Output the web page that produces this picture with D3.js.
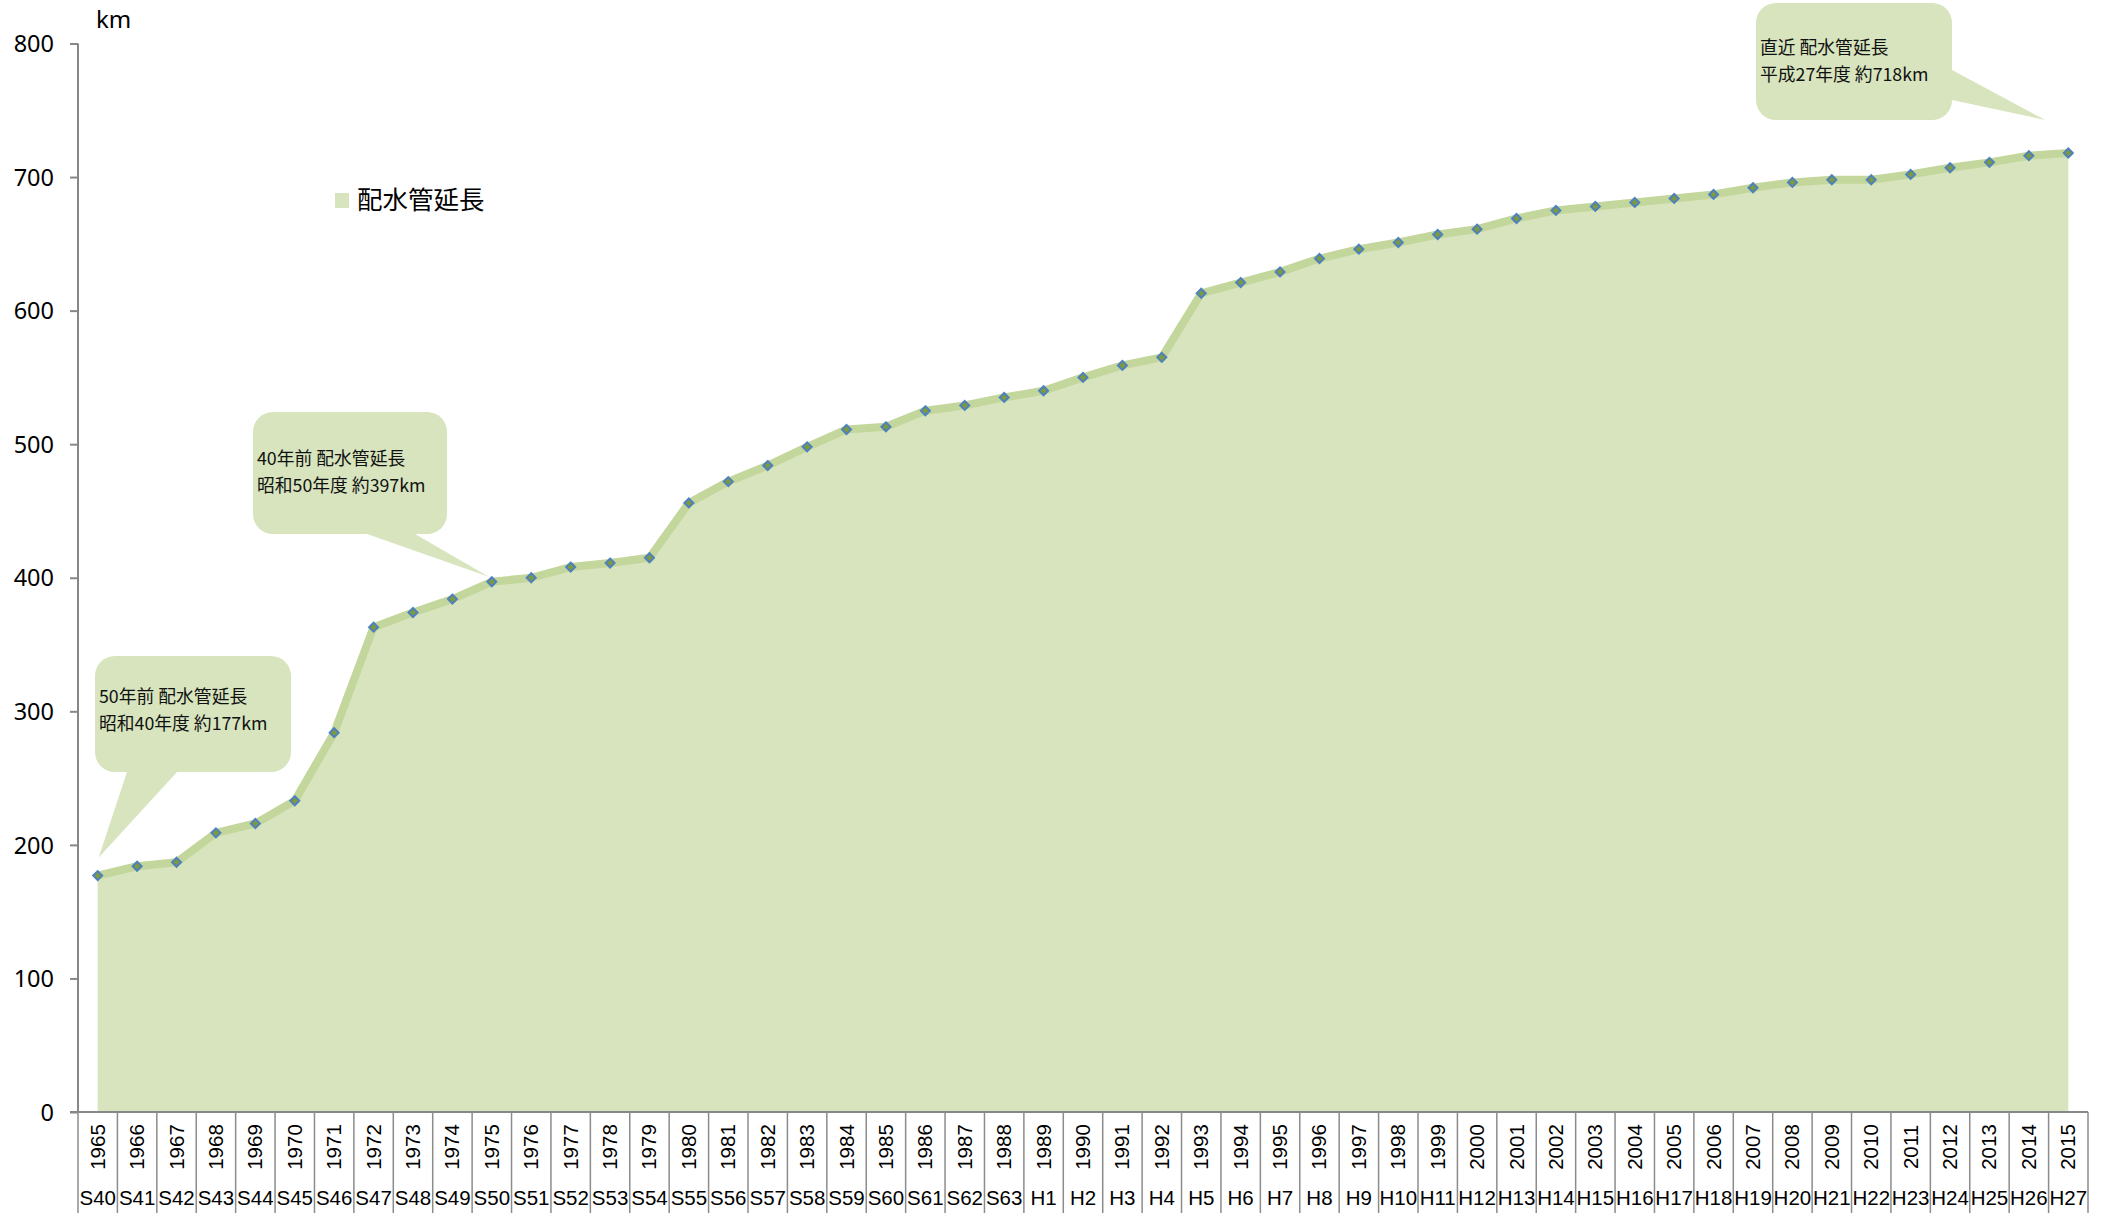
<!DOCTYPE html>
<html>
<head>
<meta charset="utf-8">
<script src="https://cdn.jsdelivr.net/npm/d3@7"></script>
<style>
  html, body { margin: 0; padding: 0; background: #fff; }
  svg { display: block; }
</style>
</head>
<body>
<svg id="chart" width="2104" height="1213"></svg>
<script>
// ---- data ----
const years = ["1965","1966","1967","1968","1969","1970","1971","1972","1973","1974",
  "1975","1976","1977","1978","1979","1980","1981","1982","1983","1984",
  "1985","1986","1987","1988","1989","1990","1991","1992","1993","1994",
  "1995","1996","1997","1998","1999","2000","2001","2002","2003","2004",
  "2005","2006","2007","2008","2009","2010","2011","2012","2013","2014","2015"];
const eras = ["S40","S41","S42","S43","S44","S45","S46","S47","S48","S49",
  "S50","S51","S52","S53","S54","S55","S56","S57","S58","S59",
  "S60","S61","S62","S63","H1","H2","H3","H4","H5","H6",
  "H7","H8","H9","H10","H11","H12","H13","H14","H15","H16",
  "H17","H18","H19","H20","H21","H22","H23","H24","H25","H26","H27"];
const pipeLength = [177,184,187,209,216,233,284,363,374,384,
  397,400,408,411,415,456,472,484,498,511,
  513,525,529,535,540,550,559,565,613,621,
  629,639,646,651,657,661,669,675,678,681,
  684,687,692,696,698,698,702,707,711,716,718];
const yTicks = [0,100,200,300,400,500,600,700,800];
const seriesName = "配水管延長";
const unitLabel = "km";
const notes = [
  { year: "1965", lines: ["50年前 配水管延長", "昭和40年度 約177km"] },
  { year: "1975", lines: ["40年前 配水管延長", "昭和50年度 約397km"] },
  { year: "2015", lines: ["直近 配水管延長", "平成27年度 約718km"] }
];

// ---- layout ----
const svg = d3.select("#chart");
const X0 = 78, X1 = 2088, Y0 = 1112, Y1 = 43.5;
const fillC = "#d7e4bd", lineC = "#c3d69b", axisC = "#878787";
const jpFont = "'Noto Sans CJK JP', 'Noto Sans', sans-serif";
const numFont = "'Noto Sans', 'Open Sans', sans-serif";
const narrowFont = "'Liberation Sans Narrow', 'Liberation Sans', sans-serif";

const x = d3.scaleBand().domain(years).range([X0, X1]).padding(0);
const y = d3.scaleLinear().domain([0, 800]).range([Y0, Y1]);
const cx = d => x(d) + x.bandwidth() / 2;
const data = years.map((yr, i) => ({ yr, era: eras[i], v: pipeLength[i] }));

// area
svg.append("path")
  .datum(data)
  .attr("fill", fillC)
  .attr("d", d3.area().x(d => cx(d.yr)).y0(y(0)).y1(d => y(d.v)));

// line
svg.append("path")
  .datum(data)
  .attr("fill", "none")
  .attr("stroke", lineC)
  .attr("stroke-width", 8)
  .attr("stroke-linejoin", "round")
  .attr("d", d3.line().x(d => cx(d.yr)).y(d => y(d.v)));

// markers
svg.append("g").selectAll("path")
  .data(data).join("path")
  .attr("transform", d => `translate(${cx(d.yr)},${y(d.v)})`)
  .attr("d", "M0,-4.5L4.5,0L0,4.5L-4.5,0Z")
  .attr("fill", "#7d9a3c")
  .attr("stroke", "#4f81bd")
  .attr("stroke-width", 2);

// y axis
const yAxis = svg.append("g")
  .attr("transform", `translate(${X0},0)`)
  .call(d3.axisLeft(y).tickValues(yTicks).tickSize(8).tickPadding(16).tickFormat(d3.format("d")));
yAxis.select(".domain").attr("stroke", axisC).attr("stroke-width", 2)
  .attr("d", `M0,${Y1}V${Y0}`);
yAxis.selectAll(".tick line").attr("stroke", axisC).attr("stroke-width", 2);
yAxis.selectAll(".tick text")
  .attr("font-family", numFont).attr("font-size", 23.5).attr("fill", "#000")
  .attr("dy", "0.35em");

// unit label
svg.append("text").attr("x", 96).attr("y", 28)
  .attr("font-family", numFont).attr("font-size", 24).attr("fill", "#000")
  .text(unitLabel);

// x axis (two-level category labels)
const xAxis = svg.append("g")
  .attr("transform", `translate(0,${Y0})`)
  .call(d3.axisBottom(x).tickSize(0).tickFormat(""));
xAxis.select(".domain").attr("stroke", axisC).attr("stroke-width", 2)
  .attr("d", `M${X0 - 8},0H${X1}`);

const sep = svg.append("g");
const bounds = years.map(d => x(d)).concat([X1]);
sep.selectAll("line").data(bounds).join("line")
  .attr("x1", d => d).attr("x2", d => d)
  .attr("y1", Y0).attr("y2", 1213)
  .attr("stroke", "#8c8c8c").attr("stroke-width", 1.5);

svg.append("g").selectAll("text").data(data).join("text")
  .attr("transform", d => `translate(${cx(d.yr) + 7},1147) rotate(-90)`)
  .attr("text-anchor", "middle")
  .attr("font-family", narrowFont).attr("font-size", 20.5).attr("fill", "#000")
  .text(d => d.yr);

svg.append("g").selectAll("text").data(data).join("text")
  .attr("x", d => cx(d.yr)).attr("y", 1205)
  .attr("text-anchor", "middle")
  .attr("font-family", narrowFont).attr("font-size", 20.5).attr("fill", "#000")
  .text(d => d.era);

// legend
svg.append("rect").attr("x", 335).attr("y", 193).attr("width", 14).attr("height", 15).attr("fill", fillC);
svg.append("text").attr("x", 357).attr("y", 209)
  .attr("font-family", jpFont).attr("font-size", 25.5).attr("fill", "#000")
  .text(seriesName);

// callouts: box geometry (pixels) + tip offset from the data point
const boxes = [
  { bx: 95, by: 656, bw: 196, bh: 116, textDy: 47, tipDx: 1, tipDy: -18, base: [[127, 772], [177, 772]] },
  { bx: 253, by: 412, bw: 194, bh: 122, textDy: 53, tipDx: -3, tipDy: -5, base: [[367, 534], [415, 534]] },
  { bx: 1756, by: 3, bw: 196, bh: 117, textDy: 51, tipDx: -23, tipDy: -33, base: [[1952, 70], [1952, 100]] }
];
notes.forEach((n, i) => {
  const b = boxes[i];
  const d = data.find(e => e.yr === n.year);
  const tx = cx(d.yr) + b.tipDx, ty = y(d.v) + b.tipDy;
  const g = svg.append("g");
  g.append("rect").attr("x", b.bx).attr("y", b.by).attr("width", b.bw).attr("height", b.bh)
    .attr("rx", 20).attr("ry", 20).attr("fill", fillC);
  g.append("path")
    .attr("d", `M${b.base[0][0]},${b.base[0][1]}L${tx},${ty}L${b.base[1][0]},${b.base[1][1]}Z`)
    .attr("fill", fillC);
  n.lines.forEach((t, j) => {
    g.append("text").attr("x", b.bx + 4).attr("y", b.by + b.textDy + j * 26.5)
      .attr("font-family", jpFont).attr("font-size", 17.8).attr("fill", "#111")
      .text(t);
  });
});
</script>
</body>
</html>
